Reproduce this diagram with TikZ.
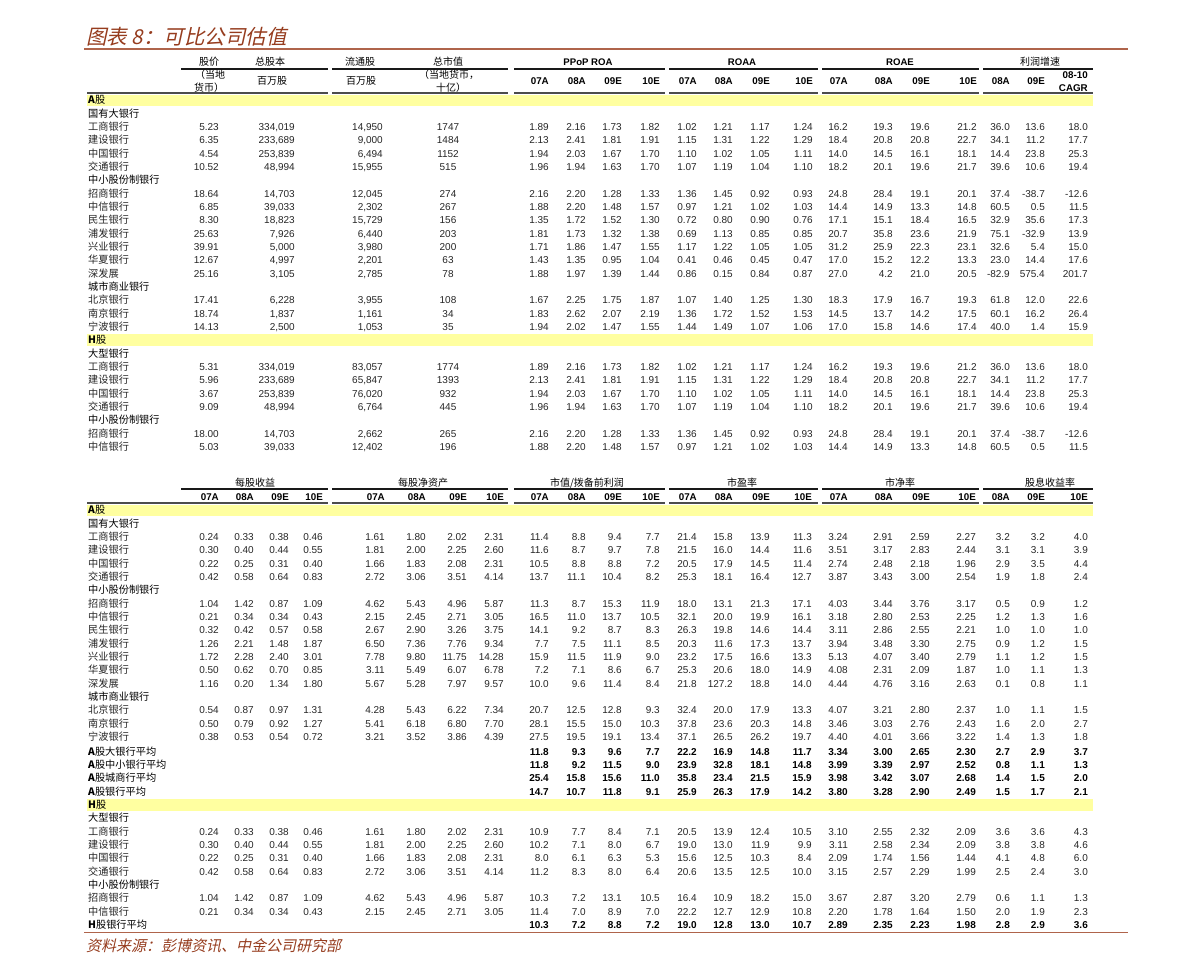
\documentclass[tikz,border=0pt]{standalone}
\usepackage{fontspec}
\setmainfont{Liberation Sans}
\newfontfamily\cjk{Noto Sans CJK SC}
\newfontfamily\cjkit{Noto Sans CJK SC}[FakeSlant=0.22]
\definecolor{bandyellow}{RGB}{255,255,160}
\definecolor{titlebrown}{RGB}{150,60,30}
\definecolor{rulebrown}{RGB}{175,100,75}
\def\TX{219,295,383,448,549,586,622,660,697,733,770,813,848,893,930,977,1010,1045,1088}
\def\BX{219,254,289,323,385,426,467,504,549,586,622,660,697,733,770,812,848,893,930,976,1010,1045,1088}
\def\AX{549,586,622,660,697,733,770,812,848,893,930,976,1010,1045,1088}
\tikzset{
  num/.style={anchor=east,inner sep=0pt,text=black!85,font=\fontsize{10}{12}\selectfont,text height=7.4pt,text depth=0pt},
  numb/.style={num,text=black,font=\bfseries\fontsize{10}{12}\selectfont},
  lab/.style={anchor=west,inner sep=0pt,text=black!85,font=\cjk\fontsize{10.2}{12}\selectfont,text height=7.4pt,text depth=0pt},
  cat/.style={lab,text=black},
  hd/.style={anchor=center,inner sep=0pt,font=\cjk\fontsize{10}{12}\selectfont,text height=7.4pt,text depth=0pt},
  hdb/.style={anchor=center,inner sep=0pt,font=\bfseries\fontsize{9.6}{11}\selectfont,text height=7.2pt,text depth=0pt},
  sub/.style={anchor=east,inner sep=0pt,font=\bfseries\fontsize{9.8}{11}\selectfont,text height=7.2pt,text depth=0pt},
  thinrule/.style={line width=1.1pt,black!90},
  thickrule/.style={line width=2.4pt,black!70},
  band/.style={fill=bandyellow}
}
% name, y, xlist, style, centred column, values
\newcommand\drow[6]{%
  \foreach \v [count=\i] in {#6} {%
    \pgfmathsetmacro\xx{{#3}[\i-1]}%
    \ifnum\i=#5\relax
      \node[#4,anchor=center] (#1-\i) at (\xx,#2) {\v};%
    \else
      \node[#4] (#1-\i) at (\xx,#2) {\v};%
    \fi
  }}
\newcommand\trow[3]{%
  \pgfmathsetmacro\yy{100+13.333*#1}%
  \node[lab] (tl#1) at (88,\yy) {#2};%
  \drow{t#1}{\yy}{\TX}{num}{4}{#3}}
\newcommand\tcat[2]{%
  \pgfmathsetmacro\yy{100+13.333*#1}%
  \node[cat] (tl#1) at (88,\yy) {#2};}
\newcommand\brow[4]{% name, y, label, values
  \node[lab] (bl#1) at (88,#2) {#3};%
  \drow{b#1}{#2}{\BX}{num}{0}{#4}}
\newcommand\bcat[3]{\node[cat] (bl#1) at (88,#2) {#3};}
\newcommand\bavg[4]{%
  \node[cat] (bl#1) at (88,#2) {#3};%
  \drow{b#1}{#2}{\AX}{numb}{0}{#4}}
\newcommand\rules[2]{% row-1 y, row-2 y
  \foreach \a/\b in {181/328,332/508,514/665,669/818,822/979,983/1093}
    \draw[thinrule] (\a,#1) -- (\b,#1);
  \foreach \a/\b in {87/328,332/508,514/665,669/818,822/979,983/1093}
    \draw[thickrule] (\a,#2) -- (\b,#2);}
\begin{document}
\begin{tikzpicture}[x=1pt,y=-1pt]
\useasboundingbox[fill=white] (0,0) rectangle (1191,975);
% title
\node[anchor=west,inner sep=0pt,text=titlebrown,font=\cjkit\fontsize{20.5}{24}\selectfont] (title) at (86,37) {图表 8：可比公司估值};
\draw[rulebrown,line width=1.3pt] (84,49) -- (1128,49);
% ===== top table =====
\fill[band] (87,94.5) rectangle (1093,106);
\fill[band] (87,334.3) rectangle (1093,345.8);
\rules{69}{93}
\node[hd] (h1) at (209,62) {股价};
\node[hd] (h2) at (270,62) {总股本};
\node[hd] (h3) at (360,62) {流通股};
\node[hd] (h4) at (448,62) {总市值};
\node[hdb] (h5) at (588,62) {PPoP ROA};
\node[hdb] (h6) at (742,62) {ROAA};
\node[hdb] (h7) at (900,62) {ROAE};
\node[hd] (h8) at (1040,62) {利润增速};
\node[hd] (s1a) at (210,75) {（当地};
\node[hd] (s1b) at (209,88) {货币）};
\node[hd] (s2) at (272,81) {百万股};
\node[hd] (s3) at (361,81) {百万股};
\node[hd] (s4a) at (449,75) {（当地货币，};
\node[hd] (s4b) at (451,88) {十亿）};
\foreach \x/\t [count=\k] in {549/07A,586/08A,622/09E,660/10E,697/07A,733/08A,770/09E,813/10E,848/07A,893/08A,930/09E,977/10E,1010/08A,1045/09E}
  \node[sub] (ts\k) at (\x,81) {\t};
\node[sub] (tsc1) at (1088,75) {08-10};
\node[sub] (tsc2) at (1088,88) {CAGR};
\node[lab,text=black] (tA) at (88,100) {\textbf{A}股};
\tcat{1}{国有大银行}
\trow{2}{工商银行}{5.23,{334,019},{14,950},1747,1.89,2.16,1.73,1.82,1.02,1.21,1.17,1.24,16.2,19.3,19.6,21.2,36.0,13.6,18.0}
\trow{3}{建设银行}{6.35,{233,689},{9,000},1484,2.13,2.41,1.81,1.91,1.15,1.31,1.22,1.29,18.4,20.8,20.8,22.7,34.1,11.2,17.7}
\trow{4}{中国银行}{4.54,{253,839},{6,494},1152,1.94,2.03,1.67,1.70,1.10,1.02,1.05,1.11,14.0,14.5,16.1,18.1,14.4,23.8,25.3}
\trow{5}{交通银行}{10.52,{48,994},{15,955},515,1.96,1.94,1.63,1.70,1.07,1.19,1.04,1.10,18.2,20.1,19.6,21.7,39.6,10.6,19.4}
\tcat{6}{中小股份制银行}
\trow{7}{招商银行}{18.64,{14,703},{12,045},274,2.16,2.20,1.28,1.33,1.36,1.45,0.92,0.93,24.8,28.4,19.1,20.1,37.4,-38.7,-12.6}
\trow{8}{中信银行}{6.85,{39,033},{2,302},267,1.88,2.20,1.48,1.57,0.97,1.21,1.02,1.03,14.4,14.9,13.3,14.8,60.5,0.5,11.5}
\trow{9}{民生银行}{8.30,{18,823},{15,729},156,1.35,1.72,1.52,1.30,0.72,0.80,0.90,0.76,17.1,15.1,18.4,16.5,32.9,35.6,17.3}
\trow{10}{浦发银行}{25.63,{7,926},{6,440},203,1.81,1.73,1.32,1.38,0.69,1.13,0.85,0.85,20.7,35.8,23.6,21.9,75.1,-32.9,13.9}
\trow{11}{兴业银行}{39.91,{5,000},{3,980},200,1.71,1.86,1.47,1.55,1.17,1.22,1.05,1.05,31.2,25.9,22.3,23.1,32.6,5.4,15.0}
\trow{12}{华夏银行}{12.67,{4,997},{2,201},63,1.43,1.35,0.95,1.04,0.41,0.46,0.45,0.47,17.0,15.2,12.2,13.3,23.0,14.4,17.6}
\trow{13}{深发展}{25.16,{3,105},{2,785},78,1.88,1.97,1.39,1.44,0.86,0.15,0.84,0.87,27.0,4.2,21.0,20.5,-82.9,575.4,201.7}
\tcat{14}{城市商业银行}
\trow{15}{北京银行}{17.41,{6,228},{3,955},108,1.67,2.25,1.75,1.87,1.07,1.40,1.25,1.30,18.3,17.9,16.7,19.3,61.8,12.0,22.6}
\trow{16}{南京银行}{18.74,{1,837},{1,161},34,1.83,2.62,2.07,2.19,1.36,1.72,1.52,1.53,14.5,13.7,14.2,17.5,60.1,16.2,26.4}
\trow{17}{宁波银行}{14.13,{2,500},{1,053},35,1.94,2.02,1.47,1.55,1.44,1.49,1.07,1.06,17.0,15.8,14.6,17.4,40.0,1.4,15.9}
\node[lab,text=black] (tH) at (88,340) {\textbf{H}股};
\tcat{19}{大型银行}
\trow{20}{工商银行}{5.31,{334,019},{83,057},1774,1.89,2.16,1.73,1.82,1.02,1.21,1.17,1.24,16.2,19.3,19.6,21.2,36.0,13.6,18.0}
\trow{21}{建设银行}{5.96,{233,689},{65,847},1393,2.13,2.41,1.81,1.91,1.15,1.31,1.22,1.29,18.4,20.8,20.8,22.7,34.1,11.2,17.7}
\trow{22}{中国银行}{3.67,{253,839},{76,020},932,1.94,2.03,1.67,1.70,1.10,1.02,1.05,1.11,14.0,14.5,16.1,18.1,14.4,23.8,25.3}
\trow{23}{交通银行}{9.09,{48,994},{6,764},445,1.96,1.94,1.63,1.70,1.07,1.19,1.04,1.10,18.2,20.1,19.6,21.7,39.6,10.6,19.4}
\tcat{24}{中小股份制银行}
\trow{25}{招商银行}{18.00,{14,703},{2,662},265,2.16,2.20,1.28,1.33,1.36,1.45,0.92,0.93,24.8,28.4,19.1,20.1,37.4,-38.7,-12.6}
\trow{26}{中信银行}{5.03,{39,033},{12,402},196,1.88,2.20,1.48,1.57,0.97,1.21,1.02,1.03,14.4,14.9,13.3,14.8,60.5,0.5,11.5}
% ===== bottom table =====
\fill[band] (87,504.5) rectangle (1093,516);
\fill[band] (87,799) rectangle (1093,810.5);
\rules{489}{503}
\node[hd] (g1) at (255,483) {每股收益};
\node[hd] (g2) at (423,483) {每股净资产};
\node[hd] (g3) at (587,483) {市值/拨备前利润};
\node[hd] (g4) at (742,483) {市盈率};
\node[hd] (g5) at (900,483) {市净率};
\node[hd] (g6) at (1050,483) {股息收益率};
\foreach \x/\t [count=\k] in {219/07A,254/08A,289/09E,323/10E,385/07A,426/08A,467/09E,504/10E,549/07A,586/08A,622/09E,660/10E,697/07A,733/08A,770/09E,812/10E,848/07A,893/08A,930/09E,976/10E,1010/08A,1045/09E,1088/10E}
  \node[sub] (bs\k) at (\x,497) {\t};
\node[lab,text=black] (bA) at (88,510) {\textbf{A}股};
\bcat{1}{523.3}{国有大银行}
\brow{2}{536.7}{工商银行}{0.24,0.33,0.38,0.46,1.61,1.80,2.02,2.31,11.4,8.8,9.4,7.7,21.4,15.8,13.9,11.3,3.24,2.91,2.59,2.27,3.2,3.2,4.0}
\brow{3}{550.0}{建设银行}{0.30,0.40,0.44,0.55,1.81,2.00,2.25,2.60,11.6,8.7,9.7,7.8,21.5,16.0,14.4,11.6,3.51,3.17,2.83,2.44,3.1,3.1,3.9}
\brow{4}{563.3}{中国银行}{0.22,0.25,0.31,0.40,1.66,1.83,2.08,2.31,10.5,8.8,8.8,7.2,20.5,17.9,14.5,11.4,2.74,2.48,2.18,1.96,2.9,3.5,4.4}
\brow{5}{576.7}{交通银行}{0.42,0.58,0.64,0.83,2.72,3.06,3.51,4.14,13.7,11.1,10.4,8.2,25.3,18.1,16.4,12.7,3.87,3.43,3.00,2.54,1.9,1.8,2.4}
\bcat{6}{590.0}{中小股份制银行}
\brow{7}{603.3}{招商银行}{1.04,1.42,0.87,1.09,4.62,5.43,4.96,5.87,11.3,8.7,15.3,11.9,18.0,13.1,21.3,17.1,4.03,3.44,3.76,3.17,0.5,0.9,1.2}
\brow{8}{616.7}{中信银行}{0.21,0.34,0.34,0.43,2.15,2.45,2.71,3.05,16.5,11.0,13.7,10.5,32.1,20.0,19.9,16.1,3.18,2.80,2.53,2.25,1.2,1.3,1.6}
\brow{9}{630.0}{民生银行}{0.32,0.42,0.57,0.58,2.67,2.90,3.26,3.75,14.1,9.2,8.7,8.3,26.3,19.8,14.6,14.4,3.11,2.86,2.55,2.21,1.0,1.0,1.0}
\brow{10}{643.3}{浦发银行}{1.26,2.21,1.48,1.87,6.50,7.36,7.76,9.34,7.7,7.5,11.1,8.5,20.3,11.6,17.3,13.7,3.94,3.48,3.30,2.75,0.9,1.2,1.5}
\brow{11}{656.7}{兴业银行}{1.72,2.28,2.40,3.01,7.78,9.80,11.75,14.28,15.9,11.5,11.9,9.0,23.2,17.5,16.6,13.3,5.13,4.07,3.40,2.79,1.1,1.2,1.5}
\brow{12}{670.0}{华夏银行}{0.50,0.62,0.70,0.85,3.11,5.49,6.07,6.78,7.2,7.1,8.6,6.7,25.3,20.6,18.0,14.9,4.08,2.31,2.09,1.87,1.0,1.1,1.3}
\brow{13}{683.3}{深发展}{1.16,0.20,1.34,1.80,5.67,5.28,7.97,9.57,10.0,9.6,11.4,8.4,21.8,127.2,18.8,14.0,4.44,4.76,3.16,2.63,0.1,0.8,1.1}
\bcat{14}{696.7}{城市商业银行}
\brow{15}{710.0}{北京银行}{0.54,0.87,0.97,1.31,4.28,5.43,6.22,7.34,20.7,12.5,12.8,9.3,32.4,20.0,17.9,13.3,4.07,3.21,2.80,2.37,1.0,1.1,1.5}
\brow{16}{723.3}{南京银行}{0.50,0.79,0.92,1.27,5.41,6.18,6.80,7.70,28.1,15.5,15.0,10.3,37.8,23.6,20.3,14.8,3.46,3.03,2.76,2.43,1.6,2.0,2.7}
\brow{17}{736.7}{宁波银行}{0.38,0.53,0.54,0.72,3.21,3.52,3.86,4.39,27.5,19.5,19.1,13.4,37.1,26.5,26.2,19.7,4.40,4.01,3.66,3.22,1.4,1.3,1.8}
\bavg{18}{751.5}{\textbf{A}股大银行平均}{11.8,9.3,9.6,7.7,22.2,16.9,14.8,11.7,3.34,3.00,2.65,2.30,2.7,2.9,3.7}
\bavg{19}{764.8}{\textbf{A}股中小银行平均}{11.8,9.2,11.5,9.0,23.9,32.8,18.1,14.8,3.99,3.39,2.97,2.52,0.8,1.1,1.3}
\bavg{20}{778.2}{\textbf{A}股城商行平均}{25.4,15.8,15.6,11.0,35.8,23.4,21.5,15.9,3.98,3.42,3.07,2.68,1.4,1.5,2.0}
\bavg{21}{791.5}{\textbf{A}股银行平均}{14.7,10.7,11.8,9.1,25.9,26.3,17.9,14.2,3.80,3.28,2.90,2.49,1.5,1.7,2.1}
\node[lab,text=black] (bH) at (88,804.8) {\textbf{H}股};
\bcat{23}{818.2}{大型银行}
\brow{24}{831.5}{工商银行}{0.24,0.33,0.38,0.46,1.61,1.80,2.02,2.31,10.9,7.7,8.4,7.1,20.5,13.9,12.4,10.5,3.10,2.55,2.32,2.09,3.6,3.6,4.3}
\brow{25}{844.8}{建设银行}{0.30,0.40,0.44,0.55,1.81,2.00,2.25,2.60,10.2,7.1,8.0,6.7,19.0,13.0,11.9,9.9,3.11,2.58,2.34,2.09,3.8,3.8,4.6}
\brow{26}{858.2}{中国银行}{0.22,0.25,0.31,0.40,1.66,1.83,2.08,2.31,8.0,6.1,6.3,5.3,15.6,12.5,10.3,8.4,2.09,1.74,1.56,1.44,4.1,4.8,6.0}
\brow{27}{871.5}{交通银行}{0.42,0.58,0.64,0.83,2.72,3.06,3.51,4.14,11.2,8.3,8.0,6.4,20.6,13.5,12.5,10.0,3.15,2.57,2.29,1.99,2.5,2.4,3.0}
\bcat{28}{884.8}{中小股份制银行}
\brow{29}{898.2}{招商银行}{1.04,1.42,0.87,1.09,4.62,5.43,4.96,5.87,10.3,7.2,13.1,10.5,16.4,10.9,18.2,15.0,3.67,2.87,3.20,2.79,0.6,1.1,1.3}
\brow{30}{911.5}{中信银行}{0.21,0.34,0.34,0.43,2.15,2.45,2.71,3.05,11.4,7.0,8.9,7.0,22.2,12.7,12.9,10.8,2.20,1.78,1.64,1.50,2.0,1.9,2.3}
\bavg{31}{924.8}{\textbf{H}股银行平均}{10.3,7.2,8.8,7.2,19.0,12.8,13.0,10.7,2.89,2.35,2.23,1.98,2.8,2.9,3.6}
% footer
\draw[rulebrown,line width=1.3pt] (84,932.5) -- (1128,932.5);
\node[anchor=west,inner sep=0pt,text=titlebrown,font=\cjkit\fontsize{15}{18}\selectfont] (src) at (86,946) {资料来源：彭博资讯、中金公司研究部};
\end{tikzpicture}
\end{document}
